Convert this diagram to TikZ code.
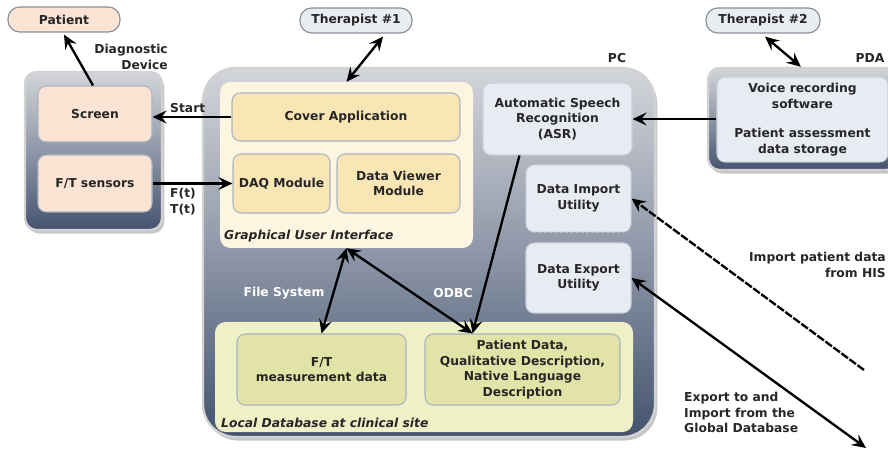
\documentclass[tikz,border=0pt]{standalone}
\usepackage{fontspec}
\setmainfont{DejaVu Sans}
\usetikzlibrary{arrows.meta,shadows,calc}

\definecolor{peach}{HTML}{FCE4D4}
\definecolor{pillgrey}{HTML}{E9ECF1}
\definecolor{rimgrey}{HTML}{A9B3C1}
\definecolor{slatetop}{HTML}{D3D5D9}
\definecolor{slatemid}{HTML}{8E97A8}
\definecolor{slatebot}{HTML}{44536E}
\definecolor{guicream}{HTML}{FDF5E0}
\definecolor{modyellow}{HTML}{FAE6B4}
\definecolor{asrgrey}{HTML}{E8ECF2}
\definecolor{dbpale}{HTML}{EEF0C6}
\definecolor{dbitem}{HTML}{E1E4A6}

\begin{document}
\begin{tikzpicture}[x=0.03cm, y=-0.03cm,
	every node/.style={font=\fontsize{10.5}{13.2}\selectfont\bfseries, text=black!85},
	spot/.style args={#1/#2/#3/#4}{at={({(#1+#3)/2},{(#2+#4)/2})}, minimum width={(#3-#1)*0.03cm}, minimum height={(#4-#2)*0.03cm}},
	pill/.style={draw=rimgrey!80!black, line width=1pt, rounded corners=10pt, inner sep=0pt},
	device/.style={draw=gray!35, line width=2pt, top color=slatetop, bottom color=slatebot, middle color=slatemid,
		drop shadow={shadow xshift=2pt, shadow yshift=-3pt, opacity=0.45}, inner sep=0pt},
	panel/.style={rounded corners=9pt, inner sep=0pt},
	module/.style={draw=rimgrey, line width=0.9pt, rounded corners=7pt, align=center, inner sep=0pt},
	arr/.style={line width=2pt, -{Stealth[length=12pt,width=11pt,inset=4.5pt]}},
	biarr/.style={line width=2pt, {Stealth[length=12pt,width=11pt,inset=4.5pt]}-{Stealth[length=12pt,width=11pt,inset=4.5pt]}},
	tag/.style={align=center, inner sep=0pt},
	ital/.style={font=\fontsize{10.5}{13}\selectfont\bfseries\itshape, anchor=base west, inner sep=0pt}
]
	\useasboundingbox (0,0) rectangle (888,455);

	% people
	\node[pill, fill=peach, spot=8/7/120/32] (patient) {Patient};
	\node[pill, fill=pillgrey, spot=300/8/412/33] (t1) {Therapist \#1};
	\node[pill, fill=pillgrey, spot=706/8/820/33] (t2) {Therapist \#2};

	% diagnostic device
	\node[device, rounded corners=10pt, spot=25/72/162/230] (diag) {};
	\node[module, fill=peach, spot=38/86/152/142] (screen) {Screen};
	\node[module, fill=peach, spot=38/155/152/212] (ftsens) {F/T sensors};
	\node[tag, align=right, anchor=north east] (diaglbl) at (168,44) {Diagnostic\\Device};

	% PC
	\node[device, rounded corners=28pt, spot=203/68/655/437] (pc) {};
	\node[tag] (pclbl) at (617,58) {PC};
	\node[panel, fill=guicream, spot=220/82/473/248] (gui) {};
	\node[ital] (guilbl) at (224,240) {Graphical User Interface};
	\node[module, fill=modyellow, spot=232/93/460/141] (cover) {Cover Application};
	\node[module, fill=modyellow, spot=233/154/330/213] (daq) {DAQ Module};
	\node[module, fill=modyellow, spot=337/154/460/213] (viewer) {Data Viewer\\Module};
	\node[module, fill=asrgrey, draw=rimgrey!60, spot=483/83/632/155] (asr) {Automatic Speech\\Recognition\\(ASR)};
	\node[module, fill=asrgrey, draw=rimgrey!60, dash pattern=on 3pt off 1.5pt, spot=526/165/631/232] (import) {Data Import\\Utility};
	\node[module, fill=asrgrey, draw=rimgrey!60, spot=526/243/631/313] (export) {Data Export\\Utility};
	\node[panel, fill=dbpale, spot=215/322/633/432] (db) {};
	\node[ital] (dblbl) at (221,427) {Local Database at clinical site};
	\node[module, fill=dbitem, spot=237/334/406/405] (ftdata) {F/T\\measurement data};
	\node[module, fill=dbitem, spot=425/334/620/405] (pdata) {Patient Data,\\Qualitative Description,\\Native Language\\Description};
	\node[tag, text=white] (fslbl) at (284,293) {File System};
	\node[tag, text=white] (odbclbl) at (453,293) {ODBC};

	% PDA
	\node[tag] (pdalbl) at (870,58) {PDA};
	\node[device, rounded corners=10pt, spot=708/68/898/170] (pda) {};
	\node[module, fill=asrgrey, draw=rimgrey!60, spot=717/77/888/162] (pdain) {Voice recording\\software\\[12pt]Patient assessment\\data storage};

	% outside labels
	\node[tag, align=right, anchor=north east] (hislbl) at (886,252) {Import patient data\\from HIS};
	\node[tag, align=left, anchor=north west] (gdblbl) at (684,392) {Export to and\\Import from the\\Global Database};
	\node[tag, align=left, anchor=north west] (ftlbl) at (170,188) {F(t)\\T(t)};
	\node[tag, anchor=base west] (startlbl) at (170,113) {Start};

	% connectors
	\coordinate (pdtop) at ($(pdata.north)+(-50,0)$);
	\coordinate (his) at (864,370);
	\coordinate (gdb) at (866,448);
	\draw[arr] ($(screen.north)+(-2,0)$) -- ($(patient.south)+(0,2)$);
	\draw[arr] (cover.west) -- (cover.west -| screen.east);
	\draw[arr] (ftsens.east) -- (daq.west);
	\draw[biarr] ($(t1.south)+(27,3)$) -- (gui.north);
	\draw[biarr] ($(t2.south)+(2,3)$) -- ($(pda.north west)+(94,0)$);
	\draw[arr] (pdain.west |- asr.east) -- (asr.east);
	\draw[arr] ($(asr.south west)+(37,0)$) -- (pdtop);
	\draw[biarr] (gui.south) -- (ftdata.north);
	\draw[biarr] (gui.south) -- (pdtop);
	\draw[arr, dash pattern=on 7pt off 1.5pt] (his) -- (import.east);
	\draw[biarr] (export.east) -- (gdb);
\end{tikzpicture}
\end{document}
